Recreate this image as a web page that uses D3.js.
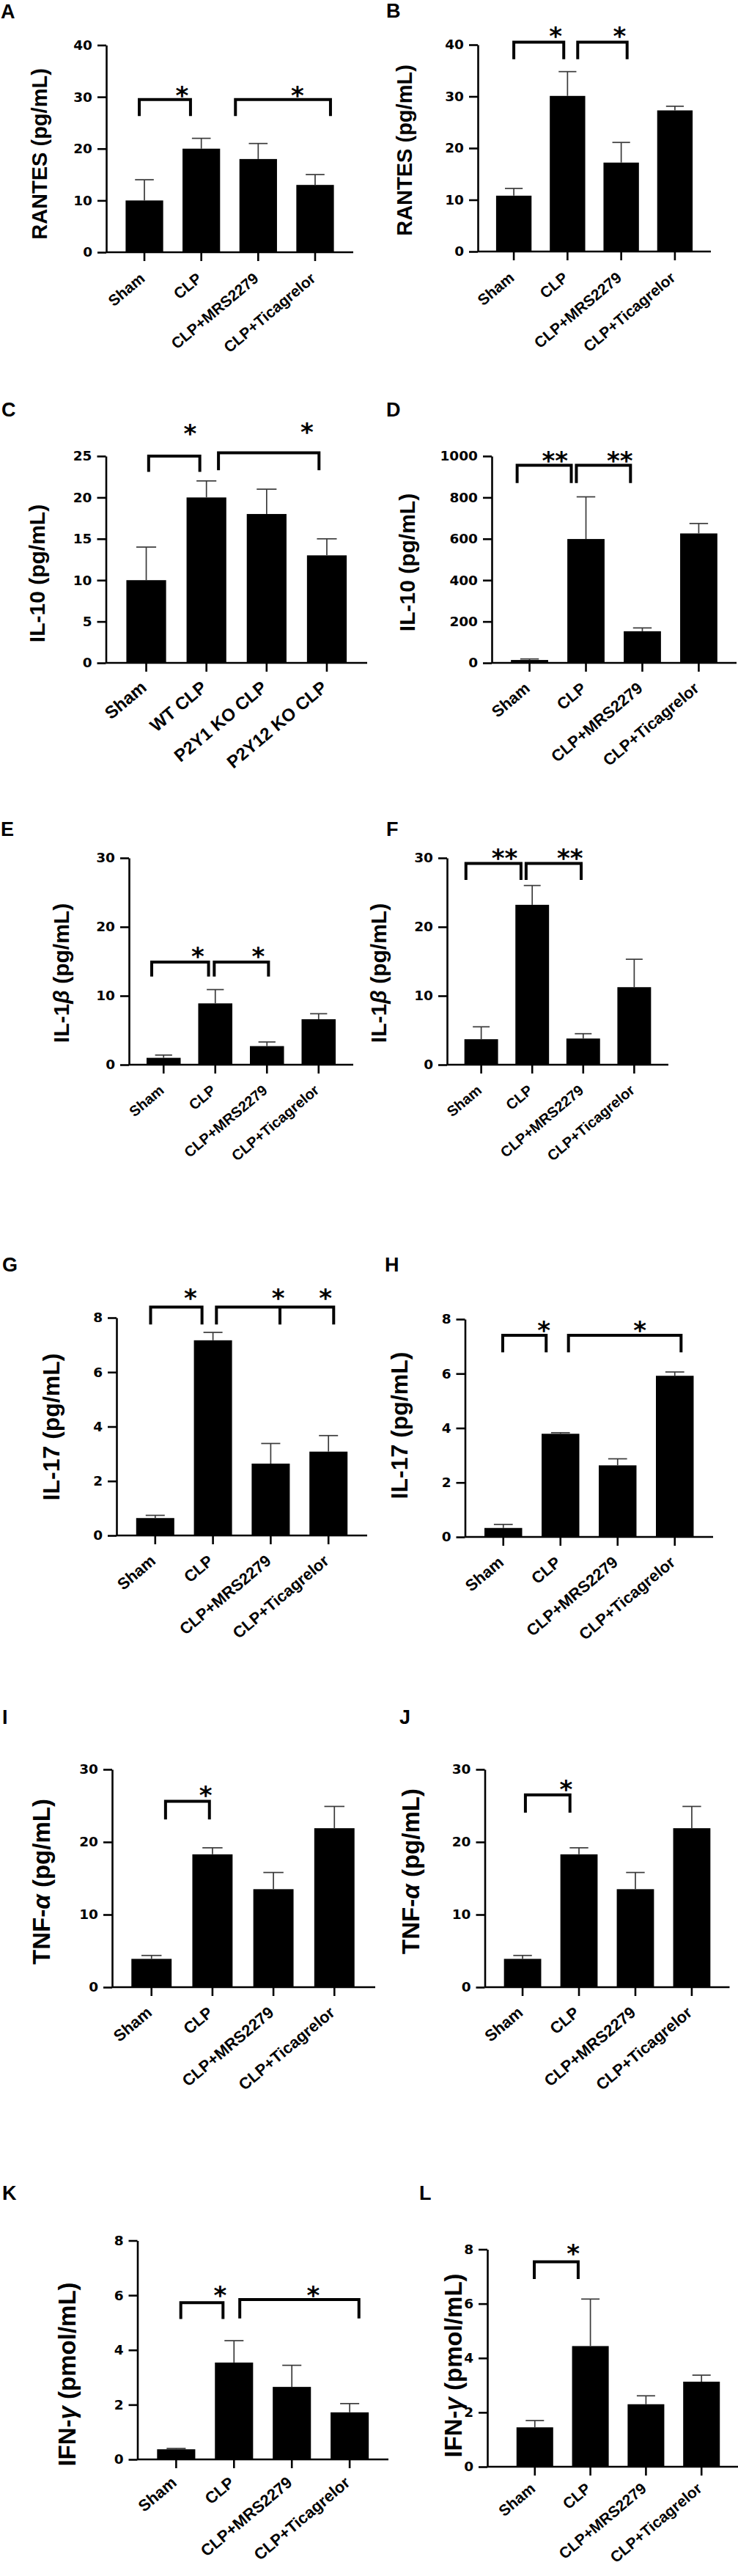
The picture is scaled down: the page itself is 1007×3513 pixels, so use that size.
<!DOCTYPE html>
<html>
<head>
<meta charset="utf-8">
<script src="https://cdn.jsdelivr.net/npm/d3@7"></script>
<style>
  body { margin: 0; background: #fff; }
  text { font-family: "Liberation Sans", Arial, sans-serif; font-weight: bold; fill: #000; }
  .tick-num { font-family: "DejaVu Sans", sans-serif; }
  .star { font-family: "DejaVu Sans", sans-serif; }
</style>
</head>
<body>
<div id="chart"></div>
<script>
// groups
const treatGroups = ["Sham", "CLP", "CLP+MRS2279", "CLP+Ticagrelor"]
const koGroups = ["Sham", "WT CLP", "P2Y1 KO CLP", "P2Y12 KO CLP"]

// means and SEM
const rantesA = [10, 20, 18, 13]
const rantesAErr = [4, 2, 3, 2]
const rantesB = [10.8, 30.1, 17.2, 27.3]
const rantesBErr = [1.4, 4.7, 3.9, 0.8]
const il10C = [10, 20, 18, 13]
const il10CErr = [4, 2, 3, 2]
const il10D = [14, 599, 153, 626]
const il10DErr = [5, 204, 16, 48]
const il1bE = [1.0, 8.9, 2.7, 6.6]
const il1bEErr = [0.4, 2.0, 0.6, 0.8]
const il1bF = [3.7, 23.2, 3.8, 11.25]
const il1bFErr = [1.8, 2.8, 0.7, 4.05]
const il17G = [0.64, 7.17, 2.64, 3.08]
const il17GErr = [0.1, 0.29, 0.74, 0.59]
const il17H = [0.33, 3.79, 2.63, 5.92]
const il17HErr = [0.13, 0.04, 0.24, 0.14]
const tnfI = [3.9, 18.3, 13.5, 21.9]
const tnfIErr = [0.47, 0.9, 2.3, 3.0]
const tnfJ = [3.9, 18.3, 13.5, 21.9]
const tnfJErr = [0.47, 0.9, 2.3, 3.0]
const ifnK = [0.37, 3.54, 2.65, 1.72]
const ifnKErr = [0.03, 0.8, 0.79, 0.32]
const ifnL = [1.45, 4.44, 2.30, 3.13]
const ifnLErr = [0.25, 1.73, 0.31, 0.24]

// y tick labels
const ticks40 = [0, 10, 20, 30, 40]
const ticks25 = [0, 5, 10, 15, 20, 25]
const ticks1000 = [0, 200, 400, 600, 800, 1000]
const ticks30 = [0, 10, 20, 30]
const ticks8 = [0, 2, 4, 6, 8]

// significance brackets: legs in group units (0 = first group), top/bottom in data units
const bracketsA = [{ legs: [-0.09, 0.81], top: 29.5, bottom: 26.3 }, { legs: [1.6, 3.27], top: 29.5, bottom: 26.3 }]
const starsA = [{ at: 0.66, v: 31.0, t: "*" }, { at: 2.69, v: 31.0, t: "*" }]
const bracketsB = [{ legs: [0, 0.93], top: 40.5, bottom: 37.2 }, { legs: [1.19, 2.11], top: 40.5, bottom: 37.2 }]
const starsB = [{ at: 0.78, v: 42.4, t: "*" }, { at: 1.97, v: 42.4, t: "*" }]
const bracketsC = [{ legs: [0.04, 0.89], top: 25.0, bottom: 23.1 }, { legs: [1.2, 2.87], top: 25.4, bottom: 23.3 }]
const starsC = [{ at: 0.73, v: 28.2, t: "*" }, { at: 2.67, v: 28.4, t: "*" }]
const bracketsD = [{ legs: [-0.22, 0.74], top: 956, bottom: 870 }, { legs: [0.83, 1.79], top: 956, bottom: 870 }]
const starsD = [{ at: 0.45, v: 996, t: "**" }, { at: 1.6, v: 996, t: "**" }]
const bracketsE = [{ legs: [-0.23, 0.87], top: 14.9, bottom: 12.8 }, { legs: [0.98, 2.03], top: 14.9, bottom: 12.8 }]
const starsE = [{ at: 0.66, v: 16.3, t: "*" }, { at: 1.83, v: 16.3, t: "*" }]
const bracketsF = [{ legs: [-0.3, 0.78], top: 29.2, bottom: 26.8 }, { legs: [0.88, 1.96], top: 29.2, bottom: 26.8 }]
const starsF = [{ at: 0.46, v: 30.5, t: "**" }, { at: 1.74, v: 30.5, t: "**" }]
const bracketsG = [{ legs: [-0.08, 0.81], top: 8.39, bottom: 7.75 }, { legs: [1.06, 2.16, 3.09], top: 8.39, bottom: 7.75 }]
const starsG = [{ at: 0.61, v: 8.86, t: "*" }, { at: 2.13, v: 8.86, t: "*" }, { at: 2.95, v: 8.86, t: "*" }]
const bracketsH = [{ legs: [-0.01, 0.75], top: 7.41, bottom: 6.78 }, { legs: [1.14, 3.11], top: 7.41, bottom: 6.78 }]
const starsH = [{ at: 0.71, v: 7.74, t: "*" }, { at: 2.39, v: 7.74, t: "*" }]
const bracketsI = [{ legs: [0.23, 0.95], top: 25.6, bottom: 23.1 }]
const starsI = [{ at: 0.89, v: 26.95, t: "*" }]
const bracketsJ = [{ legs: [0.05, 0.84], top: 26.5, bottom: 24.05 }]
const starsJ = [{ at: 0.77, v: 27.8, t: "*" }]
const bracketsK = [{ legs: [0.08, 0.81], top: 5.73, bottom: 5.13 }, { legs: [1.1, 3.16], top: 5.84, bottom: 5.15 }]
const starsK = [{ at: 0.76, v: 6.15, t: "*" }, { at: 2.37, v: 6.15, t: "*" }]
const bracketsL = [{ legs: [-0.01, 0.78], top: 7.54, bottom: 6.91 }]
const starsL = [{ at: 0.69, v: 8.0, t: "*" }]

// axis titles: [before greek, greek letter, after]
const titleRantes = ["RANTES (pg/mL)", "", ""]
const titleIl10 = ["IL-10 (pg/mL)", "", ""]
const titleIl1b = ["IL-1", "\u03B2", " (pg/mL)"]
const titleIl17 = ["IL-17 (pg/mL)", "", ""]
const titleTnf = ["TNF-", "\u03B1", " (pg/mL)"]
const titleIfn = ["IFN-", "\u03B3", " (pmol/mL)"]

// Panel layout (pixel boxes)
const panels = [
  { id: "A", groups: treatGroups, mean: rantesA, err: rantesAErr, ticks: ticks40, title: titleRantes, br: bracketsA, st: starsA,
    x0: 145, x1: 482, yTop: 61.5, y0: 344, lab: [1, 25], tx: 64, ty: 210, tfs: 29, xfs: 21, xoff: 38 },
  { id: "B", groups: treatGroups, mean: rantesB, err: rantesBErr, ticks: ticks40, title: titleRantes, br: bracketsB, st: starsB,
    x0: 652, x1: 970, yTop: 61, y0: 343, lab: [527, 24], tx: 562, ty: 205, tfs: 29, xfs: 21, xoff: 38 },
  { id: "C", groups: koGroups, mean: il10C, err: il10CErr, ticks: ticks25, title: titleIl10, br: bracketsC, st: starsC,
    x0: 144.5, x1: 501, yTop: 622, y0: 904, lab: [2, 568], tx: 61, ty: 782, tfs: 30, xfs: 24, xoff: 36 },
  { id: "D", groups: treatGroups, mean: il10D, err: il10DErr, ticks: ticks1000, title: titleIl10, br: bracketsD, st: starsD,
    x0: 671, x1: 1005, yTop: 622, y0: 904, lab: [527, 568], tx: 566, ty: 767, tfs: 30, xfs: 22, xoff: 37 },
  { id: "E", groups: treatGroups, mean: il1bE, err: il1bEErr, ticks: ticks30, title: titleIl1b, br: bracketsE, st: starsE,
    x0: 176, x1: 482, yTop: 1170, y0: 1452, lab: [1, 1140], tx: 94, ty: 1327, tfs: 30, xfs: 20, xoff: 37 },
  { id: "F", groups: treatGroups, mean: il1bF, err: il1bFErr, ticks: ticks30, title: titleIl1b, br: bracketsF, st: starsF,
    x0: 610, x1: 912, yTop: 1170, y0: 1452, lab: [527, 1140], tx: 527, ty: 1327, tfs: 30, xfs: 20, xoff: 37 },
  { id: "G", groups: treatGroups, mean: il17G, err: il17GErr, ticks: ticks8, title: titleIl17, br: bracketsG, st: starsG,
    x0: 159, x1: 501, yTop: 1797, y0: 2094, lab: [3, 1734], tx: 81, ty: 1946, tfs: 32, xfs: 22, xoff: 37 },
  { id: "H", groups: treatGroups, mean: il17H, err: il17HErr, ticks: ticks8, title: titleIl17, br: bracketsH, st: starsH,
    x0: 634.5, x1: 973, yTop: 1799, y0: 2096, lab: [525, 1734], tx: 556, ty: 1944, tfs: 32, xfs: 22, xoff: 37 },
  { id: "I", groups: treatGroups, mean: tnfI, err: tnfIErr, ticks: ticks30, title: titleTnf, br: bracketsI, st: starsI,
    x0: 153, x1: 512, bx0: 151, yTop: 2413, y0: 2710, lab: [3, 2351], tx: 68, ty: 2566, tfs: 33, xfs: 22, xoff: 37 },
  { id: "J", groups: treatGroups, mean: tnfJ, err: tnfJErr, ticks: ticks30, title: titleTnf, br: bracketsJ, st: starsJ,
    x0: 661.5, x1: 995.5, yTop: 2413, y0: 2710, lab: [545, 2351], tx: 572, ty: 2552, tfs: 33, xfs: 22, xoff: 37 },
  { id: "K", groups: treatGroups, mean: ifnK, err: ifnKErr, ticks: ticks8, title: titleIfn, br: bracketsK, st: starsK,
    x0: 187.5, x1: 530, yTop: 3055.5, y0: 3354, lab: [3, 3000], tx: 103, ty: 3238, tfs: 33, xfs: 22, xoff: 34 },
  { id: "L", groups: treatGroups, mean: ifnL, err: ifnLErr, ticks: ticks8, title: titleIfn, br: bracketsL, st: starsL,
    x0: 665, x1: 1007, bx0: 679, bx1: 1008, yTop: 3067.5, y0: 3364, lab: [572, 3000], tx: 630, ty: 3226, tfs: 33, xfs: 21, xoff: 32 }
]

const svg = d3.select("#chart").append("svg")
  .attr("width", 1007)
  .attr("height", 3513)

panels.forEach(p => {
  const g = svg.append("g")
  const rows = p.groups.map((name, i) => ({ name, mean: p.mean[i], err: p.err[i] }))

  const x = d3.scaleBand()
    .domain(p.groups)
    .range([p.bx0 || p.x0, p.bx1 || p.x1])
    .paddingInner(0.34)
    .paddingOuter(0.34)
  const y = d3.scaleLinear()
    .domain([0, d3.max(p.ticks)])
    .range([p.y0, p.yTop])

  // position in group units -> pixel
  const gx = u => x(p.groups[0]) + x.bandwidth() / 2 + u * x.step()

  // Panel letter
  g.append("text")
    .attr("x", p.lab[0]).attr("y", p.lab[1])
    .attr("font-size", 27)
    .text(p.id)

  // Bars
  g.selectAll(".bar")
    .data(rows)
    .join("rect")
    .attr("class", "bar")
    .attr("x", d => x(d.name))
    .attr("width", x.bandwidth())
    .attr("y", d => y(d.mean))
    .attr("height", d => y(0) - y(d.mean))
    .attr("fill", "#000")

  // Error bars (upper only)
  const eb = g.selectAll(".eb").data(rows).join("g").attr("class", "eb")
    .attr("stroke", "#3a3a3a").attr("stroke-width", 1.7)
  eb.append("line")
    .attr("x1", d => x(d.name) + x.bandwidth() / 2)
    .attr("x2", d => x(d.name) + x.bandwidth() / 2)
    .attr("y1", d => y(d.mean))
    .attr("y2", d => y(d.mean + d.err))
  eb.append("line")
    .attr("x1", d => x(d.name) + x.bandwidth() / 2 - x.bandwidth() * 0.25)
    .attr("x2", d => x(d.name) + x.bandwidth() / 2 + x.bandwidth() * 0.25)
    .attr("y1", d => y(d.mean + d.err))
    .attr("y2", d => y(d.mean + d.err))

  // Y axis
  const yAxis = g.append("g")
    .attr("transform", "translate(" + p.x0 + ",0)")
    .call(d3.axisLeft(y).tickValues(p.ticks).tickFormat(d3.format("d"))
      .tickSize(12).tickPadding(7).tickSizeOuter(0))
  yAxis.select(".domain").attr("stroke", "#000").attr("stroke-width", 2.6)
  yAxis.selectAll(".tick line").attr("stroke", "#000").attr("stroke-width", 2.6)
  yAxis.selectAll(".tick text")
    .attr("class", "tick-num")
    .attr("font-size", 18.5)
    .attr("font-family", null)
    .style("font-weight", "bold")

  // X axis
  g.append("line")
    .attr("x1", p.x0).attr("x2", p.x1)
    .attr("y1", p.y0).attr("y2", p.y0)
    .attr("stroke", "#000").attr("stroke-width", 2.6)
  g.selectAll(".xtick")
    .data(p.groups)
    .join("line")
    .attr("class", "xtick")
    .attr("x1", d => x(d) + x.bandwidth() / 2)
    .attr("x2", d => x(d) + x.bandwidth() / 2)
    .attr("y1", p.y0).attr("y2", p.y0 + 12)
    .attr("stroke", "#000").attr("stroke-width", 2.6)

  g.selectAll(".xlab")
    .data(p.groups)
    .join("text")
    .attr("class", "xlab")
    .attr("text-anchor", "end")
    .attr("font-size", p.xfs)
    .attr("transform", d => "translate(" + (x(d) + x.bandwidth() / 2 + 2) + "," + (p.y0 + p.xoff) + ") rotate(-40)")
    .text(d => d)

  // Y axis title
  const t = g.append("text")
    .attr("text-anchor", "middle")
    .attr("font-size", p.tfs)
    .attr("transform", "translate(" + p.tx + "," + p.ty + ") rotate(-90)")
  t.append("tspan").text(p.title[0])
  if (p.title[1]) {
    t.append("tspan").attr("font-style", "italic").text(p.title[1])
    t.append("tspan").text(p.title[2])
  }

  // Significance brackets
  p.br.forEach(b => {
    const xs = b.legs.map(gx)
    g.append("path")
      .attr("d", "M" + xs[0] + "," + y(b.bottom) + "V" + y(b.top) + "H" + xs[xs.length - 1] + "V" + y(b.bottom))
      .attr("fill", "none").attr("stroke", "#000").attr("stroke-width", 4)
    xs.slice(1, -1).forEach(xm => {
      g.append("line")
        .attr("x1", xm).attr("x2", xm)
        .attr("y1", y(b.top)).attr("y2", y(b.bottom))
        .attr("stroke", "#000").attr("stroke-width", 4)
    })
  })

  g.selectAll(".star")
    .data(p.st)
    .join("text")
    .attr("class", "star")
    .attr("text-anchor", "middle")
    .attr("font-size", 34)
    .attr("x", d => gx(d.at))
    .attr("y", d => y(d.v) + 17)
    .text(d => d.t)
})
</script>
</body>
</html>
